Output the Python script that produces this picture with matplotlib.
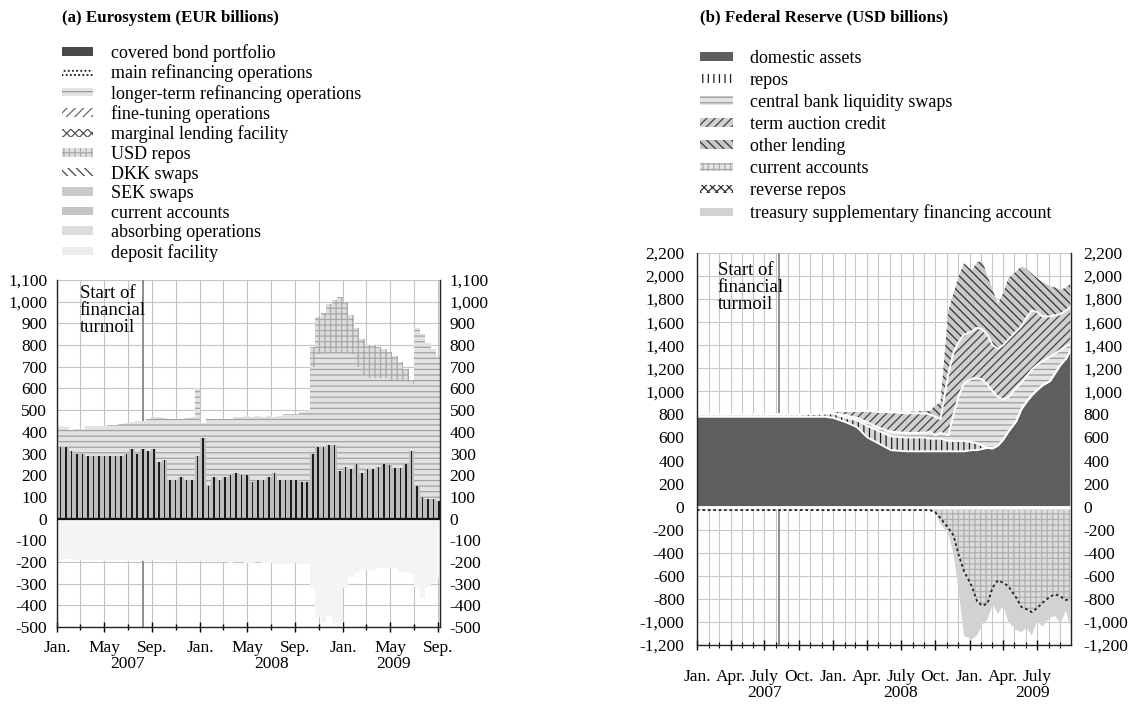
import matplotlib
matplotlib.use("Agg")
import matplotlib.pyplot as plt
import matplotlib.dates as mdates
import matplotlib.ticker as mticker
import matplotlib.transforms as mtransforms
from matplotlib.patches import Patch
import numpy as np
import pandas as pd

plt.rcParams["font.family"] = ["Liberation Serif", "DejaVu Serif"]
plt.rcParams["hatch.linewidth"] = 0.9

# (a) Eurosystem, fortnightly readings, EUR billions
ecb_dates = pd.date_range("2007-01-03", periods=70, freq="14D")
ecb_mro = [330, 330, 310, 300, 300, 290, 290, 290, 290, 290,
           290, 290, 300, 320, 300, 320, 310, 320, 260, 270,
           180, 180, 190, 180, 180, 290, 370, 150, 190, 180,
           190, 200, 210, 200, 200, 170, 180, 180, 190, 210,
           180, 180, 180, 180, 170, 170, 300, 330, 330, 340,
           340, 220, 240, 230, 250, 210, 230, 230, 240, 250,
           245, 235, 235, 250, 310, 150, 100, 90, 90, 80]
ecb_ltro = [95, 90, 100, 112, 115, 135, 135, 135, 135, 140,
            140, 145, 140, 125, 150, 130, 150, 150, 210, 195,
            280, 280, 270, 285, 290, 310, 70, 310, 270, 280,
            270, 260, 260, 270, 275, 300, 295, 290, 285, 260,
            295, 300, 300, 300, 320, 330, 400, 430, 440, 430,
            430, 550, 530, 530, 450, 450, 420, 420, 410, 400,
            395, 405, 405, 380, 310, 730, 750, 720, 690, 670]
ecb_usd_repos = [0, 0, 0, 0, 0, 0, 0, 0, 0, 0,
                 0, 0, 0, 0, 0, 0, 0, 0, 0, 0,
                 0, 0, 0, 0, 0, 0, 0, 0, 0, 0,
                 0, 0, 0, 0, 0, 0, 0, 0, 0, 0,
                 0, 0, 0, 0, 0, 0, 90, 170, 180, 220,
                 240, 250, 230, 180, 180, 170, 150, 150, 140, 130,
                 130, 110, 80, 60, 20, 0, 0, 0, 0, 0]
ecb_current = [190, 185, 185, 190, 190, 185, 190, 190, 195, 190,
               190, 190, 195, 190, 190, 195, 195, 190, 190, 195,
               195, 190, 195, 195, 200, 200, 195, 195, 200, 200,
               200, 205, 200, 200, 205, 205, 200, 205, 205, 210,
               205, 210, 210, 205, 210, 210, 210, 215, 215, 220,
               220, 215, 210, 210, 210, 205, 205, 210, 210, 210,
               210, 210, 215, 215, 215, 215, 215, 215, 215, 215]
ecb_deposit = [0, 0, 0, 0, 0, 0, 0, 0, 0, 0,
               0, 0, 0, 0, 0, 0, 0, 0, 0, 0,
               0, 0, 0, 0, 0, 0, 0, 0, 0, 0,
               0, 0, 0, 0, 0, 0, 0, 0, 0, 0,
               0, 0, 0, 0, 0, 0, 110, 240, 260, 230,
               260, 300, 110, 60, 40, 30, 30, 30, 20, 20,
               20, 20, 30, 30, 40, 100, 150, 100, 80, 60]

# (b) Federal Reserve, USD billions
fed_dates = pd.to_datetime([
    "2007-01-01", "2007-04-04", "2007-07-04", "2007-10-03", "2007-12-12",
    "2008-01-02", "2008-02-06", "2008-03-05", "2008-04-02", "2008-05-07",
    "2008-06-04", "2008-07-16", "2008-09-03", "2008-09-17", "2008-10-01",
    "2008-10-15", "2008-11-05", "2008-11-19", "2008-12-03", "2008-12-17",
    "2009-01-07", "2009-01-21", "2009-02-04", "2009-02-18", "2009-03-04",
    "2009-03-18", "2009-04-01", "2009-04-15", "2009-05-06", "2009-05-20",
    "2009-06-03", "2009-06-17", "2009-07-01", "2009-07-15", "2009-08-05",
    "2009-08-19", "2009-09-02", "2009-09-16", "2009-09-28"])
fed_domestic = [780, 780, 780, 780, 780, 770, 730, 690, 600, 540,
                490, 480, 480, 480, 480, 480, 480, 480, 480, 480,
                490, 490, 500, 510, 505, 530, 580, 650, 740, 845,
                910, 965, 1010, 1050, 1090, 1160, 1230, 1280, 1350]
fed_repos = [20, 20, 20, 20, 30, 40, 40, 60, 100, 110,
             120, 120, 120, 110, 110, 110, 90, 90, 90, 90,
             70, 60, 30, 0, 0, 0, 0, 0, 0, 0,
             0, 0, 0, 0, 0, 0, 0, 0, 0]
fed_swaps = [0, 0, 0, 0, 0, 0, 20, 20, 30, 30,
             40, 40, 40, 60, 30, 50, 50, 230, 390, 500,
             550, 570, 570, 550, 495, 420, 350, 300, 290, 230,
             220, 225, 220, 210, 210, 170, 130, 110, 60]
fed_taf = [0, 0, 0, 0, 0, 20, 40, 60, 100, 140,
           170, 170, 170, 150, 160, 120, 530, 540, 470, 420,
           410, 430, 440, 430, 400, 420, 470, 500, 490, 490,
           510, 510, 460, 390, 350, 330, 310, 310, 320]
fed_other = [0, 0, 0, 0, 0, 0, 0, 0, 0, 0,
             0, 10, 20, 30, 100, 140, 550, 510, 570, 620,
             530, 570, 590, 510, 480, 390, 450, 530, 520, 520,
             420, 320, 290, 300, 260, 240, 210, 200, 200]
fed_reverse_repos = [30, 30, 30, 30, 30, 30, 30, 30, 30, 30,
                     30, 30, 30, 30, 30, 30, 30, 30, 30, 30,
                     30, 30, 30, 30, 30, 30, 30, 30, 30, 30,
                     30, 30, 30, 30, 30, 30, 30, 30, 30]
fed_current = [0, 0, 0, 0, 0, 0, 0, 0, 0, 0,
               0, 0, 0, 0, 20, 70, 155, 220, 390, 530,
               660, 790, 830, 810, 670, 610, 630, 660, 760, 840,
               860, 885, 850, 805, 750, 730, 750, 780, 770]
fed_tsfa = [0, 0, 0, 0, 0, 0, 0, 0, 0, 0,
            0, 0, 0, 0, 0, 50, 45, 160, 320, 560,
            460, 300, 160, 140, 150, 290, 200, 310, 280, 220,
            160, 205, 110, 205, 180, 190, 240, 90, 240]

turmoil_date = pd.Timestamp("2007-08-09")
month_names = {1: "Jan.", 4: "Apr.", 5: "May", 7: "July", 9: "Sep.", 10: "Oct."}
ecb_years = ["2007", "2008", "2009"]
ecb_year_pos = pd.to_datetime(["2007-07-01", "2008-07-01", "2009-05-10"])
fed_years = ["2007", "2008", "2009"]
fed_year_pos = pd.to_datetime(["2007-07-01", "2008-07-01", "2009-06-20"])

TXT = 12.5
LEG = 13


def thousands(v, pos=None):
    return f"{int(round(v)):,}"


def month_label(v, pos=None):
    return month_names.get(mdates.num2date(v).month, "")


def steps(dates, vals):
    x = dates.append(pd.DatetimeIndex([dates[-1] + pd.Timedelta(days=14)]))
    y = np.append(np.asarray(vals, float), vals[-1])
    return x, y


fig = plt.figure(figsize=(11.29, 7.05), dpi=100)

# ---------------- panel (a)
ax1 = fig.add_axes([57 / 1129, 1 - 627 / 705, 383 / 1129, 347 / 705])
ax1.set_axisbelow(True)
ax1.set_xlim(pd.Timestamp("2007-01-01"), pd.Timestamp("2009-09-05"))
ax1.set_ylim(-500, 1100)

x, mro = steps(ecb_dates, ecb_mro)
_, ltro = steps(ecb_dates, ecb_ltro)
_, usd = steps(ecb_dates, ecb_usd_repos)
_, cur = steps(ecb_dates, ecb_current)
_, dep = steps(ecb_dates, ecb_deposit)
ltro_top = mro + ltro
usd_top = ltro_top + usd

ax1.axvline(turmoil_date, color="#8c8c8c", lw=1.4, zorder=0.8)
ax1.fill_between(x, 0, -cur, step="post", facecolor="#f3f4f6", lw=0, zorder=1)
ax1.fill_between(x, -cur, -cur - dep, step="post", facecolor="#f3f4f6", lw=0, zorder=1)
ax1.fill_between(x, 0, mro, step="post", facecolor="#bdbdbd", lw=0, zorder=1)
ax1.fill_between(x, mro, ltro_top, step="post", facecolor="#e2e2e2",
                 hatch="---", edgecolor="#a2a2a2", lw=0, zorder=1)
ax1.fill_between(x, ltro_top, usd_top, step="post", facecolor="#dddddd",
                 hatch="+++", edgecolor="#a8a8a8", lw=0, zorder=1)
ax1.bar(ecb_dates + pd.Timedelta(days=7), ecb_mro, width=4, color="#1c1c1c", zorder=3)
ax1.axhline(0, color="#111111", lw=1.6, zorder=4)

ax1.yaxis.set_major_locator(mticker.MultipleLocator(100))
ax1.yaxis.set_major_formatter(mticker.FuncFormatter(thousands))
ax1.tick_params(axis="y", which="both", length=0, labelsize=TXT, pad=7,
                labelleft=True, labelright=True)
ax1.xaxis.set_major_locator(mdates.MonthLocator(bymonth=[1, 5, 9]))
ax1.xaxis.set_minor_locator(mdates.MonthLocator(bymonth=[3, 7, 11]))
ax1.xaxis.set_major_formatter(mticker.FuncFormatter(month_label))
ax1.tick_params(axis="x", which="major", direction="inout", length=7, width=1,
                labelsize=TXT, pad=6)
ax1.tick_params(axis="x", which="minor", direction="inout", length=4, width=1)
ax1.grid(True, which="both", axis="x", color="#c4c4c4", lw=0.8)
ax1.grid(True, which="major", axis="y", color="#c4c4c4", lw=0.8)
ax1.spines["top"].set_visible(False)
for s in ("left", "right", "bottom"):
    ax1.spines[s].set_color("#222222")
    ax1.spines[s].set_linewidth(1.0)

tr1 = mtransforms.blended_transform_factory(ax1.transData, ax1.transAxes)
for lab, pos in zip(ecb_years, ecb_year_pos):
    ax1.text(pos, -0.107, lab, transform=tr1, ha="center", va="center", fontsize=TXT)
ax1.text(0.06, 0.985, "Start of\nfinancial\nturmoil", transform=ax1.transAxes,
         ha="left", va="top", fontsize=13.5, linespacing=1.0, zorder=5)

fig.text(62 / 1129, 1 - 18 / 705, "(a) Eurosystem (EUR billions)",
         fontsize=12.2, fontweight="bold", va="center", ha="left")

ecb_handles = [
    Patch(facecolor="#4a4a4a", edgecolor="#4a4a4a", lw=0, label="covered bond portfolio"),
    Patch(facecolor="white", hatch="....", edgecolor="#222222", lw=0, label="main refinancing operations"),
    Patch(facecolor="#e3e3e3", hatch="---", edgecolor="#999999", lw=0, label="longer-term refinancing operations"),
    Patch(facecolor="white", hatch="////", edgecolor="#666666", lw=0, label="fine-tuning operations"),
    Patch(facecolor="white", hatch="xxxx", edgecolor="#555555", lw=0, label="marginal lending facility"),
    Patch(facecolor="#e0e0e0", hatch="+++", edgecolor="#aaaaaa", lw=0, label="USD repos"),
    Patch(facecolor="white", hatch="\\\\\\\\", edgecolor="#444444", lw=0, label="DKK swaps"),
    Patch(facecolor="#cacaca", lw=0, label="SEK swaps"),
    Patch(facecolor="#c4c4c4", lw=0, label="current accounts"),
    Patch(facecolor="#dcdcdc", lw=0, label="absorbing operations"),
    Patch(facecolor="#ececec", lw=0, label="deposit facility"),
]
fig.legend(handles=ecb_handles, loc="upper left", bbox_to_anchor=(62 / 1129, 1 - 44 / 705),
           frameon=False, fontsize=LEG, handlelength=1.7, handleheight=0.35,
           handletextpad=1.0, labelspacing=0.14, borderpad=0, borderaxespad=0)

# ---------------- panel (b)
ax2 = fig.add_axes([697 / 1129, 1 - 645 / 705, 374 / 1129, 392 / 705])
ax2.set_axisbelow(True)
ax2.set_xlim(pd.Timestamp("2007-01-01"), pd.Timestamp("2009-09-30"))
ax2.set_ylim(-1200, 2200)

pos_layers = np.vstack([fed_domestic, fed_repos, fed_swaps, fed_taf, fed_other]).astype(float)
pos_tops = np.cumsum(pos_layers, axis=0)
neg_layers = np.vstack([fed_reverse_repos, fed_current, fed_tsfa]).astype(float)
neg_bots = -np.cumsum(neg_layers, axis=0)

pos_styles = [
    dict(facecolor="#5e5e5e"),
    dict(facecolor="#d6d6d6", hatch="|||", edgecolor="#1e1e1e"),
    dict(facecolor="#e4e4e4", hatch="---", edgecolor="#9c9c9c"),
    dict(facecolor="#d0d0d0", hatch="////", edgecolor="#444444"),
    dict(facecolor="#c8c8c8", hatch="\\\\\\\\", edgecolor="#333333"),
]
neg_styles = [
    dict(facecolor="#dddddd"),
    dict(facecolor="#dcdcdc", hatch="+++", edgecolor="#b0b0b0"),
    dict(facecolor="#d2d2d2"),
]

ax2.axvline(turmoil_date, color="#8c8c8c", lw=1.4, zorder=0.8)
lower = np.zeros(len(fed_dates))
for top, st in zip(pos_tops, pos_styles):
    ax2.fill_between(fed_dates, lower, top, lw=0, zorder=1, **st)
    lower = top
lower = np.zeros(len(fed_dates))
for bot, st in zip(neg_bots, neg_styles):
    ax2.fill_between(fed_dates, lower, bot, lw=0, zorder=1, **st)
    lower = bot
for top in pos_tops[:-1]:
    ax2.plot(fed_dates, top, color="white", lw=1.4, zorder=2)
ax2.plot(fed_dates, neg_bots[1], color="#222222", lw=1.3, ls=(0, (1.5, 1.5)), zorder=3)
ax2.axhline(0, color="white", lw=2.0, zorder=2.5)

ax2.yaxis.set_major_locator(mticker.MultipleLocator(200))
ax2.yaxis.set_major_formatter(mticker.FuncFormatter(thousands))
ax2.tick_params(axis="y", which="both", length=0, labelsize=TXT, pad=9,
                labelleft=True, labelright=True)
ax2.xaxis.set_major_locator(mdates.MonthLocator(bymonth=[1, 4, 7, 10]))
ax2.xaxis.set_minor_locator(mdates.MonthLocator())
ax2.xaxis.set_major_formatter(mticker.FuncFormatter(month_label))
ax2.tick_params(axis="x", which="major", direction="inout", length=7, width=1,
                labelsize=TXT, pad=14)
ax2.tick_params(axis="x", which="minor", direction="inout", length=4, width=0.8)
ax2.grid(True, which="both", axis="x", color="#c8c8c8", lw=0.8)
ax2.grid(True, which="major", axis="y", color="#c8c8c8", lw=0.8)
ax2.spines["top"].set_visible(False)
for s in ("left", "right", "bottom"):
    ax2.spines[s].set_color("#222222")
    ax2.spines[s].set_linewidth(1.0)

tr2 = mtransforms.blended_transform_factory(ax2.transData, ax2.transAxes)
for lab, pos in zip(fed_years, fed_year_pos):
    ax2.text(pos, -0.122, lab, transform=tr2, ha="center", va="center", fontsize=TXT)
ax2.text(0.056, 0.978, "Start of\nfinancial\nturmoil", transform=ax2.transAxes,
         ha="left", va="top", fontsize=13.5, linespacing=1.0, zorder=5)

fig.text(700 / 1129, 1 - 17 / 705, "(b) Federal Reserve (USD billions)",
         fontsize=12.2, fontweight="bold", va="center", ha="left")

fed_handles = [
    Patch(facecolor="#5e5e5e", lw=0, label="domestic assets"),
    Patch(facecolor="white", hatch="|||", edgecolor="#1e1e1e", lw=0, label="repos"),
    Patch(facecolor="#e4e4e4", hatch="---", edgecolor="#9c9c9c", lw=0, label="central bank liquidity swaps"),
    Patch(facecolor="#d0d0d0", hatch="////", edgecolor="#444444", lw=0, label="term auction credit"),
    Patch(facecolor="#c8c8c8", hatch="\\\\\\\\", edgecolor="#333333", lw=0, label="other lending"),
    Patch(facecolor="#e6e6e6", hatch="+++", edgecolor="#aaaaaa", lw=0, label="current accounts"),
    Patch(facecolor="white", hatch="xxxx", edgecolor="#333333", lw=0, label="reverse repos"),
    Patch(facecolor="#d2d2d2", lw=0, label="treasury supplementary financing account"),
]
fig.legend(handles=fed_handles, loc="upper left", bbox_to_anchor=(700 / 1129, 1 - 50 / 705),
           frameon=False, fontsize=LEG, handlelength=1.8, handleheight=0.35,
           handletextpad=0.95, labelspacing=0.28, borderpad=0, borderaxespad=0)

fig.savefig("out.png", dpi=100)
